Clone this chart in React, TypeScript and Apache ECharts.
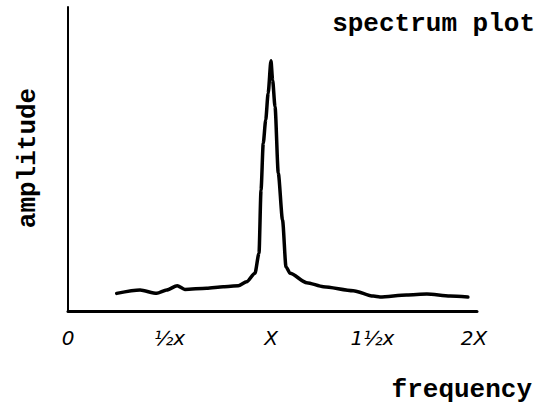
import React, { useEffect, useRef } from "react";
import * as echarts from "echarts";

// frequency in multiples of X (running speed), amplitude in arbitrary units (0-100)
const frequency = [
  0.24, 0.355, 0.437, 0.486, 0.538, 0.576, 0.683, 0.765, 0.839, 0.88, 0.921,
  0.941, 0.951, 0.962, 0.974, 0.986, 1.0, 1.008, 1.02, 1.036, 1.057, 1.074,
  1.094, 1.176, 1.258, 1.405, 1.504, 1.537, 1.668, 1.768, 1.882, 1.97,
];
const amplitude = [
  5.8, 6.9, 5.8, 6.9, 8.3, 7.1, 7.5, 8.0, 8.3, 9.6, 12.4,
  19.0, 39.8, 55.2, 62.8, 71.6, 82.3, 76.0, 67.2, 45.3, 29.9, 14.5,
  12.4, 9.3, 8.0, 6.7, 4.9, 4.6, 5.3, 5.6, 4.9, 4.6,
];
const tickValues = [0, 0.5, 1, 1.5, 2];
const tickLabels = ["0", "½x", "X", "1½x", "2X"];

export default function App() {
  const ref = useRef<HTMLDivElement>(null);
  useEffect(() => {
    if (!ref.current) return;
    const chart = echarts.init(ref.current, null, { renderer: "svg" });
    const mono = "'Liberation Mono', 'DejaVu Sans Mono', monospace";
    chart.setOption({
      animation: false,
      backgroundColor: "#ffffff",
      grid: { left: 68, right: 67, top: 7, bottom: 100, containLabel: false },
      xAxis: {
        type: "value",
        min: 0,
        max: 2.015,
        interval: 0.5,
        axisLine: { show: true, lineStyle: { color: "#000", width: 3 } },
        axisTick: { show: false },
        splitLine: { show: false },
        axisLabel: {
          show: true,
          showMaxLabel: false,
          margin: 17,
          color: "#000",
          fontSize: 20,
          fontStyle: "italic",
          fontFamily: "'DejaVu Sans', sans-serif",
          formatter: (v: number) => {
            const i = tickValues.findIndex((t) => Math.abs(t - v) < 1e-6);
            return i >= 0 ? tickLabels[i] : "";
          },
        },
      },
      yAxis: {
        type: "value",
        min: 0,
        max: 100,
        axisLine: { show: true, lineStyle: { color: "#000", width: 2 } },
        axisTick: { show: false },
        axisLabel: { show: false },
        splitLine: { show: false },
      },
      series: [
        {
          type: "line",
          data: frequency.map((f, i) => [f, amplitude[i]]),
          showSymbol: false,
          smooth: 0.25,
          smoothMonotone: "x",
          lineStyle: { color: "#000", width: 3.5, join: "round", cap: "round" },
        },
      ],
      graphic: [
        {
          type: "text",
          right: 9,
          top: 11,
          style: {
            text: "spectrum plot",
            fontFamily: mono,
            fontSize: 26,
            fontWeight: "bold",
            fill: "#000",
          },
        },
        {
          type: "text",
          right: 12,
          top: 377,
          style: {
            text: "frequency",
            fontFamily: mono,
            fontSize: 26,
            fontWeight: "bold",
            fill: "#000",
          },
        },
        {
          type: "text",
          x: 28,
          y: 158,
          rotation: Math.PI / 2,
          style: {
            text: "amplitude",
            fontFamily: mono,
            fontSize: 26,
            fontWeight: "bold",
            fill: "#000",
            align: "center",
            verticalAlign: "middle",
          },
        },
      ],
    });
    return () => chart.dispose();
  }, []);
  return (
    <div
      ref={ref}
      style={{ position: "absolute", left: 0, top: 0, width: 544, height: 411 }}
    />
  );
}
